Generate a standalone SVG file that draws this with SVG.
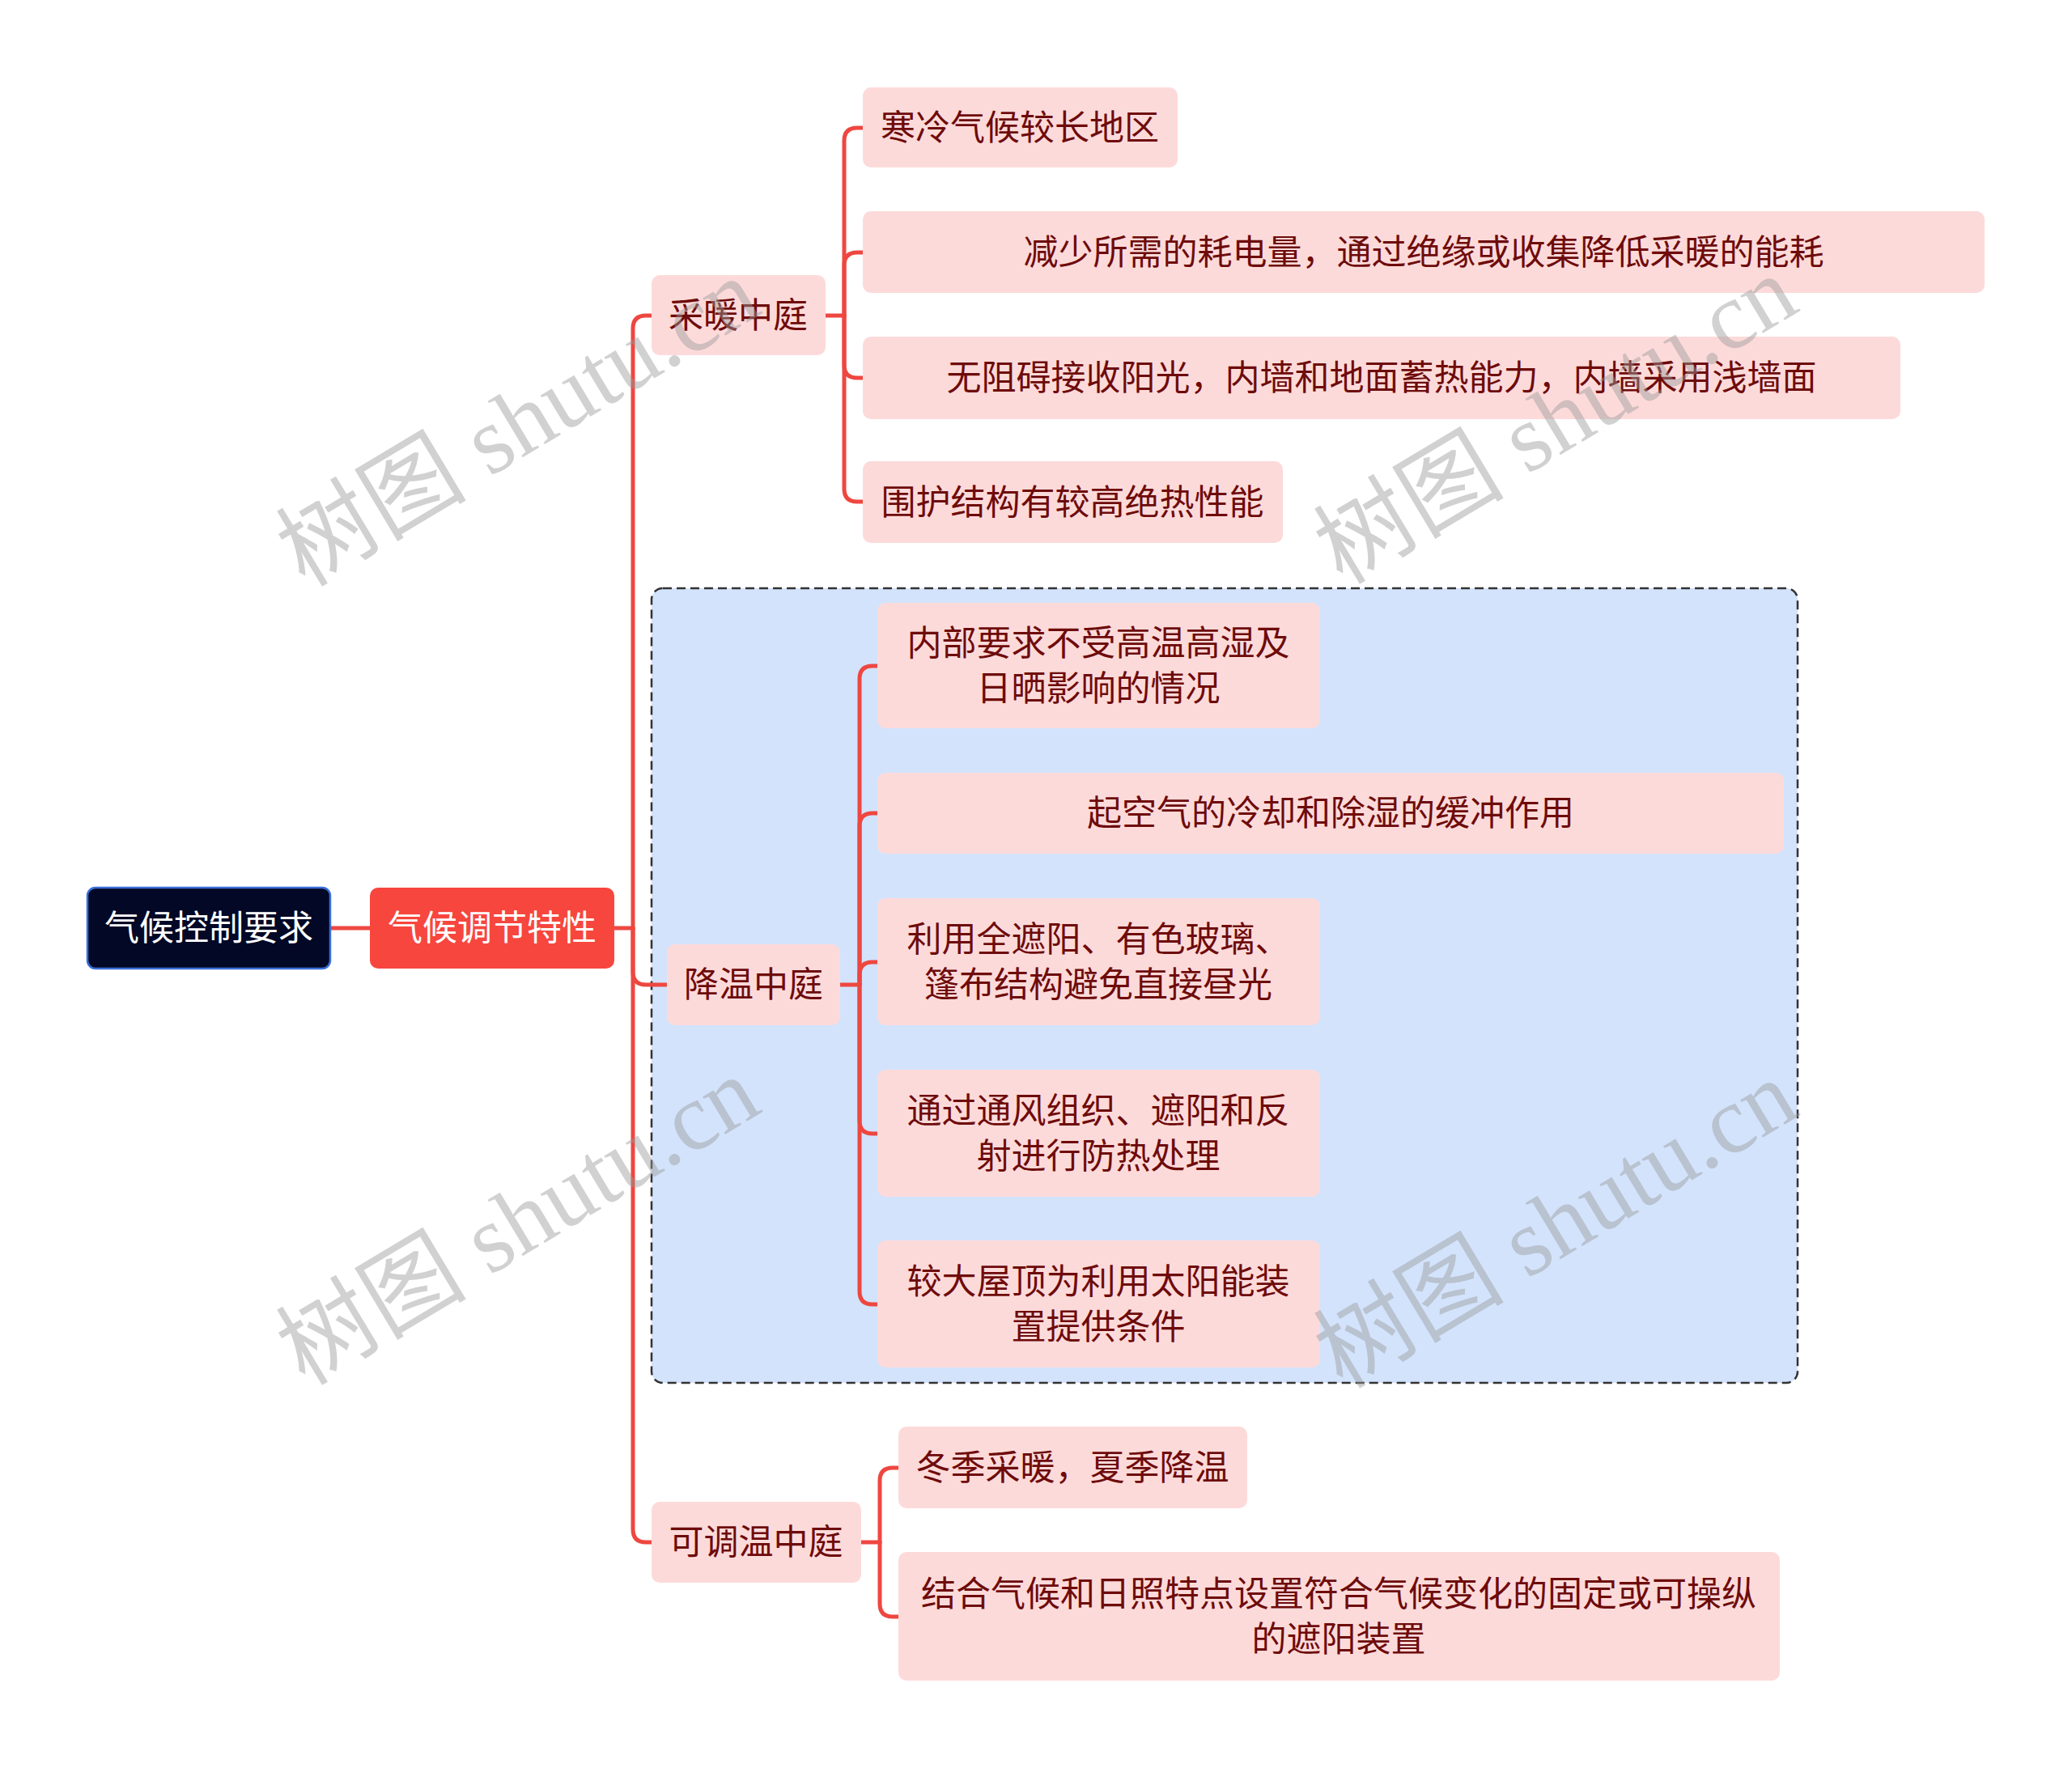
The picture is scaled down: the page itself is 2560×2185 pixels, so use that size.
<svg xmlns="http://www.w3.org/2000/svg" width="2560" height="2185" viewBox="0 0 2560 2185">
<style>
text{font-family:"Noto Sans CJK SC","Noto Sans",sans-serif;font-size:43px;text-anchor:middle}
.leaf rect{fill:#FDDADA}
.leaf text{fill:#6E0B0B}
.conn{fill:none;stroke:#EE4740;stroke-width:5;stroke-linecap:round}
.wm{font-family:"Liberation Serif","Noto Sans CJK SC",serif;font-size:118px;fill:#999;fill-opacity:0.45;text-anchor:middle}
</style>
<rect width="2560" height="2185" fill="#FFFFFF"/>
<g id="cooling-frame">
<rect x="805" y="727" width="1416" height="982" rx="14" fill="#D3E3FC" stroke="#333" stroke-width="2.5" stroke-dasharray="11,6"/>
</g>
<g id="connectors" class="conn">
<path d="M408,1147 H457"/>
<path d="M759,1147 H782"/>
<path d="M782,1147 V406 Q782,390 798,390 H805"/>
<path d="M782,1147 V1201 Q782,1217 798,1217 H824"/>
<path d="M782,1147 V1890 Q782,1906 798,1906 H805"/>
<path d="M1020,390 H1043"/>
<path d="M1043,390 V174 Q1043,158 1059,158 H1066"/>
<path d="M1043,390 V328 Q1043,312 1059,312 H1066"/>
<path d="M1043,390 V451 Q1043,467 1059,467 H1066"/>
<path d="M1043,390 V604 Q1043,620 1059,620 H1066"/>
<path d="M1038,1217 H1062"/>
<path d="M1062,1217 V839 Q1062,823 1078,823 H1084"/>
<path d="M1062,1217 V1021 Q1062,1005 1078,1005 H1084"/>
<path d="M1062,1217 V1205 Q1062,1189 1078,1189 H1084"/>
<path d="M1062,1217 V1385 Q1062,1401 1078,1401 H1084"/>
<path d="M1062,1217 V1596 Q1062,1612 1078,1612 H1084"/>
<path d="M1064,1906 H1087"/>
<path d="M1087,1906 V1830 Q1087,1814 1103,1814 H1110"/>
<path d="M1087,1906 V1982 Q1087,1998 1103,1998 H1110"/>
</g>
<g id="root">
<rect x="108" y="1097" width="300" height="100" rx="10" fill="#020826" stroke="#3A6FD8" stroke-width="2.5"/>
<text x="258" y="1162" fill="#FFFFFF">气候控制要求</text>
</g>
<g id="n-climate">
<rect x="457" y="1097" width="302" height="100" rx="10" fill="#F7463E"/>
<text x="608" y="1162" fill="#FFFFFF">气候调节特性</text>
</g>
<g id="n-heating" class="leaf">
<rect x="805" y="340" width="215" height="99" rx="10"/>
<text x="912" y="405">采暖中庭</text>
</g>
<g id="n-h1" class="leaf">
<rect x="1066" y="108" width="389" height="99" rx="10"/>
<text x="1260" y="173">寒冷气候较长地区</text>
</g>
<g id="n-h2" class="leaf">
<rect x="1066" y="261" width="1386" height="101" rx="10"/>
<text x="1759" y="327">减少所需的耗电量，通过绝缘或收集降低采暖的能耗</text>
</g>
<g id="n-h3" class="leaf">
<rect x="1066" y="416" width="1282" height="102" rx="10"/>
<text x="1707" y="482">无阻碍接收阳光，内墙和地面蓄热能力，内墙采用浅墙面</text>
</g>
<g id="n-h4" class="leaf">
<rect x="1066" y="570" width="519" height="101" rx="10"/>
<text x="1325" y="636">围护结构有较高绝热性能</text>
</g>
<g id="n-cooling" class="leaf">
<rect x="824" y="1167" width="214" height="100" rx="10"/>
<text x="931" y="1232">降温中庭</text>
</g>
<g id="n-c1" class="leaf">
<rect x="1084" y="745" width="547" height="155" rx="10"/>
<text x="1357" y="810">内部要求不受高温高湿及</text>
<text x="1357" y="866">日晒影响的情况</text>
</g>
<g id="n-c2" class="leaf">
<rect x="1084" y="955" width="1120" height="100" rx="10"/>
<text x="1644" y="1020">起空气的冷却和除湿的缓冲作用</text>
</g>
<g id="n-c3" class="leaf">
<rect x="1084" y="1110" width="547" height="157" rx="10"/>
<text x="1357" y="1176">利用全遮阳、有色玻璃、</text>
<text x="1357" y="1232">篷布结构避免直接昼光</text>
</g>
<g id="n-c4" class="leaf">
<rect x="1084" y="1322" width="547" height="157" rx="10"/>
<text x="1357" y="1388">通过通风组织、遮阳和反</text>
<text x="1357" y="1444">射进行防热处理</text>
</g>
<g id="n-c5" class="leaf">
<rect x="1084" y="1533" width="547" height="157" rx="10"/>
<text x="1357" y="1599">较大屋顶为利用太阳能装</text>
<text x="1357" y="1655">置提供条件</text>
</g>
<g id="n-adjust" class="leaf">
<rect x="805" y="1856" width="259" height="100" rx="10"/>
<text x="934" y="1921">可调温中庭</text>
</g>
<g id="n-a1" class="leaf">
<rect x="1110" y="1763" width="431" height="101" rx="10"/>
<text x="1325" y="1829">冬季采暖，夏季降温</text>
</g>
<g id="n-a2" class="leaf">
<rect x="1110" y="1918" width="1089" height="159" rx="10"/>
<text x="1654" y="1985">结合气候和日照特点设置符合气候变化的固定或可操纵</text>
<text x="1654" y="2041">的遮阳装置</text>
</g>
<g id="watermarks">
<text class="wm" transform="translate(640,522) rotate(-31)" y="40">树图 shutu.cn</text>
<text class="wm" transform="translate(1922,519) rotate(-31)" y="40">树图 shutu.cn</text>
<text class="wm" transform="translate(640,1509) rotate(-31)" y="40">树图 shutu.cn</text>
<text class="wm" transform="translate(1922,1513) rotate(-31)" y="40">树图 shutu.cn</text>
</g>
</svg>
